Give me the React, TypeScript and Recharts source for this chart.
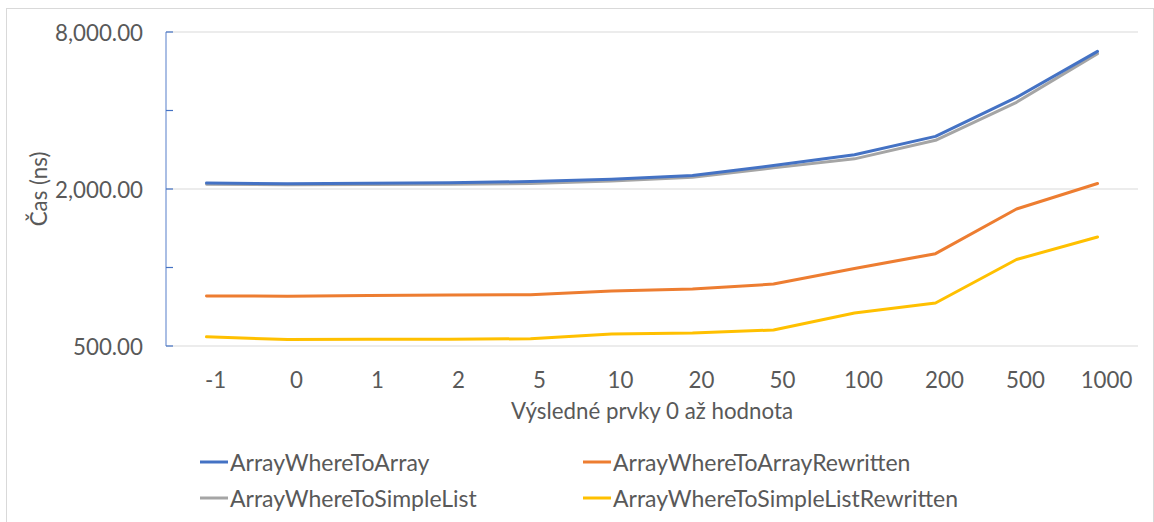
import React from 'react';
import { LineChart, Line, XAxis, YAxis, ReferenceLine, Legend, Label } from 'recharts';

const categories = ['-1', '0', '1', '2', '5', '10', '20', '50', '100', '200', '500', '1000'];
const arrayWhereToArray = [2108, 2095, 2105, 2115, 2135, 2180, 2255, 2460, 2707, 3182, 4490, 6741];
const arrayWhereToArrayRewritten = [778, 776, 781, 784, 787, 812, 827, 864, 992, 1130, 1676, 2100];
const arrayWhereToSimpleList = [2085, 2075, 2080, 2085, 2100, 2145, 2220, 2410, 2610, 3075, 4300, 6610];
const arrayWhereToSimpleListRewritten = [542, 529, 531, 531, 533, 556, 561, 576, 669, 731, 1073, 1309];

const seriesNames = ['ArrayWhereToArray', 'ArrayWhereToArrayRewritten', 'ArrayWhereToSimpleList', 'ArrayWhereToSimpleListRewritten'];
const seriesColors = ['#4472C4', '#ED7D31', '#A5A5A5', '#FFC000'];
const seriesValues = [arrayWhereToArray, arrayWhereToArrayRewritten, arrayWhereToSimpleList, arrayWhereToSimpleListRewritten];

const yTicks = [500, 1000, 2000, 4000, 8000];
const yLabeledTicks = [500, 2000, 8000];
const gridValues = [500, 2000, 8000];

const xTitle = 'Výsledné prvky 0 až hodnota';
const yTitle = 'Čas (ns)';

const data = categories.map((cat, i) => {
  const row: Record<string, string | number> = { cat };
  seriesNames.forEach((n, s) => {
    row[n] = seriesValues[s][i];
  });
  return row;
});

const FONT = 'Lato, "Open Sans", sans-serif';
const TEXT = '#595959';
const FS = 22.3;
const FS_LEGEND = 23;

const fmt = (v: number) =>
  v.toLocaleString('en-US', { minimumFractionDigits: 2, maximumFractionDigits: 2 });

const YTick = (p: any) => {
  const v = p.payload.value;
  return (
    <g>
      <line x1={p.x} x2={p.x + 7} y1={p.y} y2={p.y} stroke="#4472C4" strokeWidth={1.2} />
      {yLabeledTicks.includes(v) && (
        <text x={p.x - 23} y={p.y} textAnchor="end" dominantBaseline="central" fill={TEXT} fontFamily={FONT} fontSize={FS}>
          {fmt(v)}
        </text>
      )}
    </g>
  );
};

const XTick = (p: any) => (
  <text x={p.x + 9} y={379} textAnchor="middle" dominantBaseline="central" fill={TEXT} fontFamily={FONT} fontSize={FS}>
    {p.payload.value}
  </text>
);

const legendOrder = [0, 1, 2, 3];
const legendPos = [
  { x: 200, y: 462 },
  { x: 583, y: 462 },
  { x: 200, y: 498 },
  { x: 583, y: 498 },
];

const LegendContent = () => (
  <div style={{ position: 'relative', width: 1154, height: 0 }}>
    {legendOrder.map((s, k) => (
      <div
        key={seriesNames[s]}
        style={{
          position: 'absolute',
          left: legendPos[k].x,
          top: legendPos[k].y - 15,
          height: 30,
          display: 'flex',
          alignItems: 'center',
          whiteSpace: 'nowrap',
        }}
      >
        <svg width={30} height={30} style={{ display: 'block' }}>
          <line x1={0} x2={28} y1={15} y2={15} stroke={seriesColors[s]} strokeWidth={3} />
        </svg>
        <span style={{ fontFamily: FONT, fontSize: FS_LEGEND, color: TEXT, lineHeight: '30px' }}>{seriesNames[s]}</span>
      </div>
    ))}
  </div>
);

const drawOrder = [2, 0, 1, 3];

export default function App() {
  return (
    <div style={{ position: 'absolute', left: 0, top: 0, width: 1154, height: 522, background: '#fff', overflow: 'hidden' }}>
      <div
        style={{
          position: 'absolute',
          left: 6,
          top: 8,
          width: 1146,
          height: 600,
          border: '1px solid #d9d9d9',
          pointerEvents: 'none',
        }}
      />
      <LineChart
        width={1154}
        height={522}
        data={data}
        margin={{ top: 32, right: 16, left: 0, bottom: 96 }}
        style={{ position: 'absolute', left: 0, top: 0 }}
      >
        <XAxis
          dataKey="cat"
          type="category"
          scale="band"
          height={80}
          axisLine={false}
          tickLine={false}
          interval={0}
          tick={<XTick />}
        >
          <Label
            content={(props: any) => {
              const vb = props.viewBox;
              return (
                <text x={vb.x + vb.width / 2} y={410} textAnchor="middle" dominantBaseline="central" fill={TEXT} fontFamily={FONT} fontSize={FS}>
                  {xTitle}
                </text>
              );
            }}
          />
        </XAxis>
        <YAxis
          type="number"
          scale="log"
          domain={[500, 8000]}
          ticks={yTicks}
          interval={0}
          width={166}
          tickSize={0}
          tickMargin={0}
          tickLine={false}
          axisLine={{ stroke: '#8EA9DB', strokeWidth: 1.5 }}
          tick={<YTick />}
          allowDataOverflow
        >
          <Label
            content={() => (
              <text
                x={38}
                y={189}
                transform="rotate(-90 38 189)"
                textAnchor="middle"
                dominantBaseline="central"
                fill={TEXT}
                fontFamily={FONT}
                fontSize={FS}
              >
                {yTitle}
              </text>
            )}
          />
        </YAxis>
        {gridValues.map((v) => (
          <ReferenceLine key={v} y={v} stroke="#d9d9d9" strokeWidth={1} />
        ))}
        <Legend
          content={<LegendContent />}
          wrapperStyle={{ position: 'absolute', left: 0, top: 0, width: 1154, height: 0 }}
        />
        {drawOrder.map((s) => (
          <Line
            key={seriesNames[s]}
            type="linear"
            dataKey={seriesNames[s]}
            name={seriesNames[s]}
            stroke={seriesColors[s]}
            strokeWidth={3}
            dot={false}
            activeDot={false}
            strokeLinejoin="round"
            strokeLinecap="round"
            isAnimationActive={false}
          />
        ))}
      </LineChart>
    </div>
  );
}
